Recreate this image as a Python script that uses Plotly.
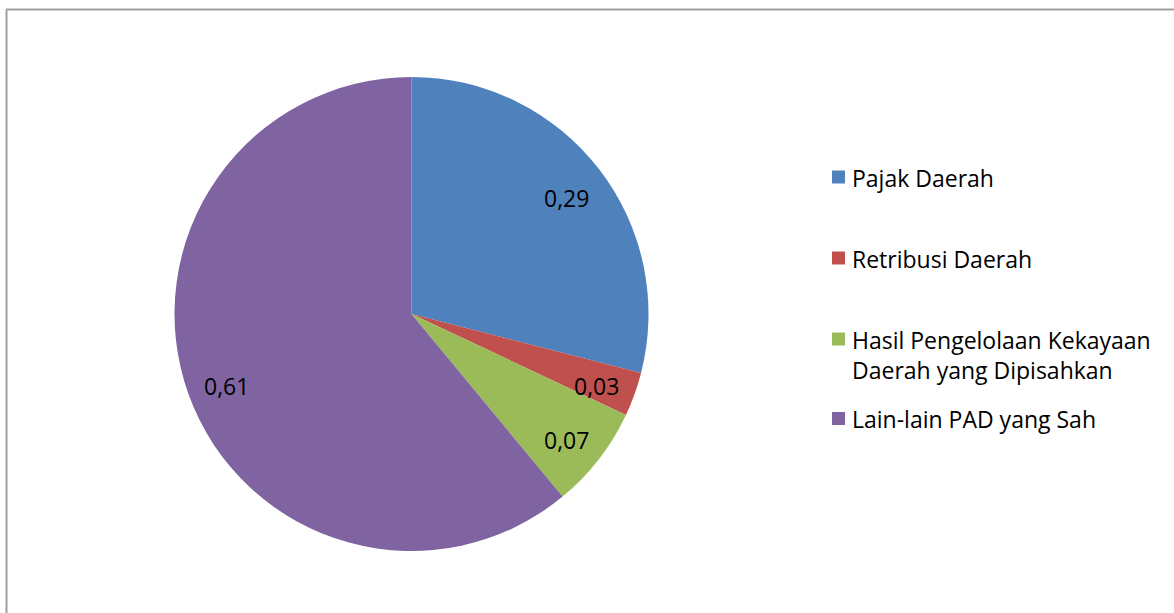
import math
import plotly.graph_objects as go

categories = ["Pajak Daerah", "Retribusi Daerah",
              "Hasil Pengelolaan Kekayaan Daerah yang Dipisahkan",
              "Lain-lain PAD yang Sah"]
legend_text = ["Pajak Daerah", "Retribusi Daerah",
               "Hasil Pengelolaan Kekayaan<br>Daerah yang Dipisahkan",
               "Lain-lain PAD yang Sah"]
values = [0.29, 0.03, 0.07, 0.61]
value_labels = ["0,29", "0,03", "0,07", "0,61"]
colors = ["#4F81BD", "#C0504D", "#9BBB59", "#8064A2"]

W, H = 1174, 613
FONT = "Open Sans"
FS = 23

def px(x):
    return x / W

def py(y):
    return 1 - y / H

cx, cy, R = 411.5, 314, 237

fig = go.Figure()
fig.add_trace(go.Pie(
    labels=categories, values=values, sort=False, direction="clockwise",
    rotation=0, marker=dict(colors=colors, line=dict(width=0)),
    textinfo="none", hoverinfo="label+value", showlegend=False,
    domain=dict(x=[px(cx - R), px(cx + R)], y=[py(cy + R), py(cy - R)]),
))

annotations = []
# data labels, placed along each slice's mid angle
total = sum(values)
cum = 0.0
for v, lab in zip(values, value_labels):
    mid = (cum + v / 2) / total * 2 * math.pi
    cum += v
    r = 0.83 * R
    x = cx + r * math.sin(mid)
    y = cy - r * math.cos(mid) + 5
    annotations.append(dict(x=px(x), y=py(y), xref="paper", yref="paper",
                            xanchor="center", yanchor="middle",
                            text=lab, showarrow=False,
                            font=dict(family=FONT, size=FS, color="#000000")))

# manual legend
shapes = []
item_y = [177, 258, 339, 418.5]
sq = 13
for name, col, yc in zip(legend_text, colors, item_y):
    shapes.append(dict(type="rect", xref="paper", yref="paper",
                       x0=px(832), x1=px(832 + sq),
                       y0=py(yc + sq / 2), y1=py(yc - sq / 2),
                       fillcolor=col, line=dict(width=0)))
    annotations.append(dict(x=px(850), y=py(yc - 17.5), xref="paper", yref="paper",
                            xanchor="left", yanchor="top", align="left",
                            text=name, showarrow=False,
                            font=dict(family=FONT, size=FS, color="#000000")))

# chart border
shapes.append(dict(type="line", xref="paper", yref="paper",
                   x0=px(6), x1=px(W + 5), y0=py(9.5), y1=py(9.5),
                   line=dict(color="#A0A0A0", width=2)))
shapes.append(dict(type="line", xref="paper", yref="paper",
                   x0=px(6.5), x1=px(6.5), y0=py(9.5), y1=py(H + 5),
                   line=dict(color="#A0A0A0", width=2)))

fig.update_layout(
    width=W, height=H, margin=dict(l=0, r=0, t=0, b=0),
    paper_bgcolor="white", plot_bgcolor="white",
    annotations=annotations, shapes=shapes,
    font=dict(family=FONT, size=FS),
)
fig.write_html("out.html", config={"displayModeBar": False},
               post_script="document.body.style.margin='0';document.body.style.overflow='hidden';")
